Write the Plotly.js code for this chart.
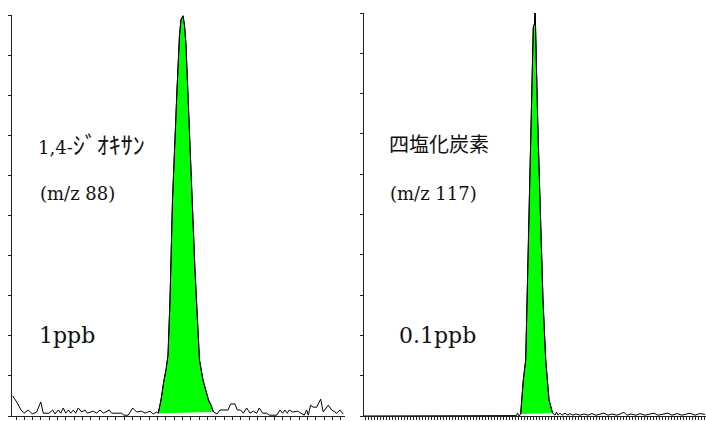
<!DOCTYPE html>
<html>
<head>
<meta charset="utf-8">
<script src="https://cdn.plot.ly/plotly-3.0.1.min.js"></script>
<style>html,body{margin:0;padding:0;background:#fff;}#chart{width:706px;height:421px;}</style>
</head>
<body>
<div id="chart"></div>
<script>
// Left chromatogram: 1,4-ジオキサン (m/z 88), 1 ppb
var dioxaneTime = [-0.40,0.08,0.60,0.96,1.48,1.96,2.48,2.97,3.28,3.96,4.41,4.68,5.08,5.37,5.68,5.97,6.28,6.57,6.88,7.17,7.48,7.89,8.28,8.56,9.28,9.69,10.08,10.48,11.20,11.49,12.69,12.97,13.48,14.01,14.49,15.09,15.49,16.09,16.48,16.89,
  17.08,17.41,17.77,18.01,18.25,18.49,18.79,19.09,19.33,19.63,19.81,19.93,20.05,20.23,20.41,20.65,20.89,21.19,21.49,21.79,22.03,22.45,22.81,23.11,23.41,23.71,
  24.13,24.49,25.45,25.77,26.29,26.57,26.97,27.29,27.70,28.09,28.49,28.90,29.21,29.62,30.10,30.41,31.30,31.69,32.02,32.29,32.57,32.81,33.21,33.82,34.21,34.61,34.90,35.09,35.38,35.69,36.10,36.58,36.89,37.49,37.90,38.50,38.90,39.29];
var dioxaneSignal = [0.50,0.35,0.15,0.07,0.15,0.05,0.10,0.35,0.07,0.07,0.15,0.05,0.15,0.07,0.20,0.07,0.15,0.07,0.15,0.07,0.20,0.10,0.15,0.07,0.12,0.07,0.15,0.07,0.15,0.07,0.07,0.02,0.02,0.20,0.10,0.12,0.07,0.12,0.05,0.10,
  0.07,0.40,0.90,1.15,1.52,2.89,5.39,7.13,8.13,9.50,9.88,9.93,9.98,9.75,9.25,8.00,6.63,5.14,3.64,2.39,1.40,0.90,0.60,0.40,0.27,0.10,
  0.05,0.15,0.15,0.30,0.30,0.15,0.15,0.07,0.20,0.07,0.12,0.07,0.20,0.07,0.07,0.02,0.02,0.15,0.07,0.15,0.07,0.15,0.10,0.12,0.07,0.02,0.15,0.02,0.27,0.22,0.22,0.42,0.10,0.27,0.15,0.07,0.15,0.05];
var dioxanePeakStart = 40, dioxanePeakEnd = 65;

// Right chromatogram: 四塩化炭素 (m/z 117), 0.1 ppb
var ctcTime = [0,18.67,38.67,50.00,50.83,51.17,51.67,
  52.23,52.57,53.10,53.90,54.33,55.00,55.67,56.10,56.43,56.83,57.00,57.17,57.33,57.90,58.67,59.67,60.57,61.10,61.67,62.57,62.90,
  63.67,64.17,64.67,65.33,66.00,67.00,68.00,68.67,69.67,70.67,72.00,73.33,74.67,76.00,77.33,78.67,80.00,81.33,82.67,84.33,85.67,86.67,87.67,89.00,90.67,92.00,93.67,95.33,96.67,98.00,99.67,101.33,102.67,104.33,106.00,107.33,108.67,110.33,112.00,113.67];
var ctcSignal = [0,0,0,0,0.01,0.07,0,
  0.05,0.40,0.89,1.39,2.88,5.36,7.34,9.08,9.65,9.73,10.0,9.70,9.08,7.34,5.36,2.88,1.39,0.89,0.40,0.15,0.07,
  0.02,0.10,0.02,0.07,0.02,0.07,0.02,0.06,0.02,0.05,0.02,0.05,0.02,0.06,0.02,0.05,0.07,0.02,0.05,0.02,0.07,0.09,0.02,0.05,0.02,0.06,0.02,0.05,0.07,0.02,0.05,0.07,0.02,0.06,0.02,0.05,0.07,0.02,0.06,0.04];
var ctcPeakStart = 7, ctcPeakEnd = 27;

var labels = {
  left: {name: '1,4-<span style="font-family:\'Noto Sans CJK JP\';font-size:24px">ｼﾞｵｷｻﾝ</span>', ion: '(m/z 88)', conc: '1ppb'},
  right: {name: '<span style="font-family:\'Noto Sans CJK JP\';font-size:20px">四塩化炭素</span>', ion: '(m/z 117)', conc: '0.1ppb'}
};

var GREEN = '#00FF00';
var traces = [
  {x: dioxaneTime.slice(dioxanePeakStart, dioxanePeakEnd + 1), y: dioxaneSignal.slice(dioxanePeakStart, dioxanePeakEnd + 1),
   xaxis: 'x', yaxis: 'y', mode: 'lines', fill: 'toself', fillcolor: GREEN, line: {color: '#000', width: 1}, hoverinfo: 'skip'},
  {x: dioxaneTime, y: dioxaneSignal, xaxis: 'x', yaxis: 'y', mode: 'lines', line: {color: '#000', width: 1}},
  {x: ctcTime.slice(ctcPeakStart, ctcPeakEnd + 1), y: ctcSignal.slice(ctcPeakStart, ctcPeakEnd + 1),
   xaxis: 'x2', yaxis: 'y2', mode: 'lines', fill: 'toself', fillcolor: GREEN, line: {color: '#000', width: 1}, hoverinfo: 'skip'},
  {x: ctcTime, y: ctcSignal, xaxis: 'x2', yaxis: 'y2', mode: 'lines', line: {color: '#000', width: 1}}
];

var axisCommon = {showgrid: false, zeroline: false, showline: true, linecolor: '#222', linewidth: 1,
  ticks: 'outside', tickcolor: '#222', tickwidth: 1, showticklabels: false, tickmode: 'linear', fixedrange: true};

var latin = "'DejaVu Serif', 'Noto Sans CJK JP', serif";
function ann(xref, yref, x, y, text, size) {
  return {xref: xref, yref: yref, x: x, y: y, text: text, showarrow: false, xanchor: 'left', yanchor: 'middle',
    font: {family: latin, size: size, color: '#111'}};
}

var layout = {
  width: 706, height: 421,
  margin: {l: 12, r: 0, t: 13, b: 5},
  paper_bgcolor: '#fff', plot_bgcolor: '#fff',
  showlegend: false,
  xaxis: Object.assign({}, axisCommon, {domain: [0, 0.4798], range: [-0.48, 39.5], tick0: 0, dtick: 1, ticklen: 3, anchor: 'y'}),
  yaxis: Object.assign({}, axisCommon, {domain: [0, 0.995], range: [0, 10], tick0: 0, dtick: 1, ticklen: 3, anchor: 'x'}),
  xaxis2: Object.assign({}, axisCommon, {domain: [0.5072, 1], range: [0, 114], tick0: 0.5, dtick: 1, ticklen: 3, anchor: 'y2'}),
  yaxis2: Object.assign({}, axisCommon, {domain: [0, 1], range: [0, 10], tick0: 0, dtick: 1, ticklen: 3, anchor: 'x2'}),
  annotations: [
    ann('x', 'y', 2.40, 6.80, labels.left.name, 18),
    ann('x', 'y', 2.64, 5.56, labels.left.ion, 18),
    ann('x', 'y', 2.52, 2.02, labels.left.conc, 22),
    ann('x2', 'y2', 7.6, 6.77, labels.right.name, 18),
    ann('x2', 'y2', 8.0, 5.53, labels.right.ion, 18),
    ann('x2', 'y2', 11.0, 2.0, labels.right.conc, 22)
  ]
};

Plotly.newPlot('chart', traces, layout, {staticPlot: true, displayModeBar: false});
</script>
</body>
</html>
